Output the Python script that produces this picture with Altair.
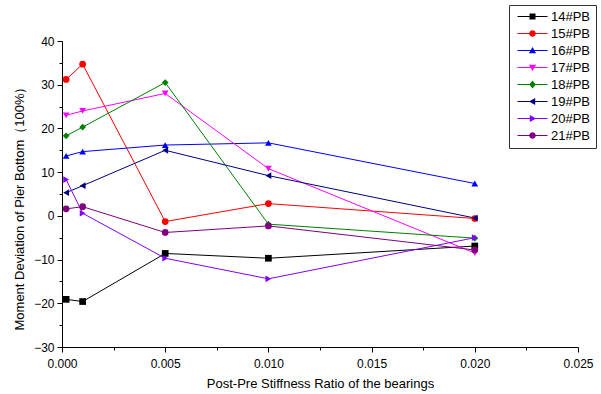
import altair as alt
import pandas as pd

# ---- data ----
ratios = [0.0002, 0.001, 0.005, 0.010, 0.020]
series_names = ["14#PB", "15#PB", "16#PB", "17#PB", "18#PB", "19#PB", "20#PB", "21#PB"]
pb14 = [-19.1, -19.6, -8.6, -9.7, -6.9]
pb15 = [31.2, 34.7, -1.3, 2.8, -0.6]
pb16 = [13.7, 14.7, 16.2, 16.7, 7.4]
pb17 = [23.0, 24.0, 28.0, 10.8, -8.5]
pb18 = [18.3, 20.3, 30.5, -1.9, -5.1]
pb19 = [5.3, 6.9, 15.0, 9.2, -0.5]
pb20 = [8.3, 0.6, -9.7, -14.4, -5.0]
pb21 = [1.6, 2.1, -3.8, -2.3, -7.8]
all_series = [pb14, pb15, pb16, pb17, pb18, pb19, pb20, pb21]

colors = ["#000000", "#FF0000", "#0000FF", "#FF00FF", "#008000", "#000080", "#8000FF", "#800080"]
shapes = ["square", "circle", "triangle-up", "triangle-down", "diamond",
          "triangle-left", "triangle-right", "circle"]

# legend symbols: a line with the marker on it (path units = 6 px)
line_part = "M-0.5,-0.09H4.5V0.09H-0.5Z"
legend_marks = [
    "M1.5,-0.5H2.5V0.5H1.5Z",
    "M1.45,0A0.55,0.55 0 1,1 2.55,0A0.55,0.55 0 1,1 1.45,0Z",
    "M2,-0.6L2.6,0.45H1.4Z",
    "M2,0.6L1.4,-0.45H2.6Z",
    "M2,-0.65L2.55,0L2,0.65L1.45,0Z",
    "M1.4,0L2.45,-0.6V0.6Z",
    "M2.6,0L1.55,0.6V-0.6Z",
    "M1.45,0A0.55,0.55 0 1,1 2.55,0A0.55,0.55 0 1,1 1.45,0Z",
]
legend_shapes = [line_part + m for m in legend_marks]

x_ticks = [0.0, 0.0025, 0.005, 0.0075, 0.01, 0.0125, 0.015, 0.0175, 0.02, 0.0225, 0.025]
y_ticks = [-30, -25, -20, -15, -10, -5, 0, 5, 10, 15, 20, 25, 30, 35, 40]

rows = []
for name, vals in zip(series_names, all_series):
    for xv, yv in zip(ratios, vals):
        rows.append({"Ratio": xv, "Deviation": yv, "Series": name})
df = pd.DataFrame(rows)

FONT = "Liberation Sans"

x_enc = alt.X(
    "Ratio:Q",
    scale=alt.Scale(domain=[0, 0.025], nice=False, zero=False),
    axis=alt.Axis(
        values=x_ticks,
        format=".3f",
        labelExpr="abs(datum.value*200 - round(datum.value*200)) < 0.001 ? datum.label : ''",
        tickSize={"condition": {"test": "abs(datum.value*200 - round(datum.value*200)) < 0.001", "value": 5}, "value": 3},
        title="Post-Pre Stiffness Ratio of the bearings",
        titlePadding=8,
        labelPadding=6,
        labelOverlap=False,
        labelFlush=False,
    ),
)
y_enc = alt.Y(
    "Deviation:Q",
    scale=alt.Scale(domain=[-30, 40], nice=False, zero=False),
    axis=alt.Axis(
        values=y_ticks,
        format="d",
        labelExpr="datum.value % 10 === 0 ? datum.label : ''",
        tickSize={"condition": {"test": "datum.value % 10 === 0", "value": 5}, "value": 3},
        title="Moment Deviation of Pier Bottom（100%）",
        titlePadding=7,
        titleY=164,
        labelPadding=3,
        labelOverlap=False,
    ),
)

lines = alt.Chart(df).mark_line(strokeWidth=1).encode(
    x=x_enc, y=y_enc,
    color=alt.Color("Series:N", scale=alt.Scale(domain=series_names, range=colors), legend=None),
    detail="Series:N",
)

points = alt.Chart(df).mark_point(filled=True, size=45, opacity=1).encode(
    x=x_enc, y=y_enc,
    color=alt.Color("Series:N", scale=alt.Scale(domain=series_names, range=colors), legend=None),
    shape=alt.Shape("Series:N", scale=alt.Scale(domain=series_names, range=shapes), legend=None),
)

leg = alt.Legend(
    orient="none", legendX=447, legendY=-36, title=None,
    strokeColor="#333333", fillColor="white", padding=5, rowPadding=3,
    symbolSize=144, symbolStrokeWidth=0, symbolOpacity=1, labelOffset=24,
    labelFontSize=13, labelFont=FONT, labelColor="black",
)
legend_layer = alt.Chart(df).transform_filter("false").mark_point(
    filled=True, size=144, opacity=1
).encode(
    x=x_enc, y=y_enc,
    color=alt.Color("Series:N", scale=alt.Scale(domain=series_names, range=colors), legend=leg),
    shape=alt.Shape("Series:N", scale=alt.Scale(domain=series_names, range=legend_shapes), legend=leg),
)

chart = alt.layer(lines, points, legend_layer).resolve_scale(
    color="independent", shape="independent"
).properties(
    width=516, height=306,
    autosize=alt.AutoSizeParams(type="none"),
    padding={"left": 62, "top": 41, "right": 23, "bottom": 47},
    background="white",
).configure_view(stroke=None).configure_axis(
    grid=False, domainColor="black", tickColor="black", labelColor="black",
    titleColor="black", labelFont=FONT, titleFont=FONT, labelFontSize=12,
    titleFontSize=13, titleFontWeight="normal", domainWidth=1, tickWidth=1,
)

chart.save("out.html", embed_options={"renderer": "svg", "actions": False})
